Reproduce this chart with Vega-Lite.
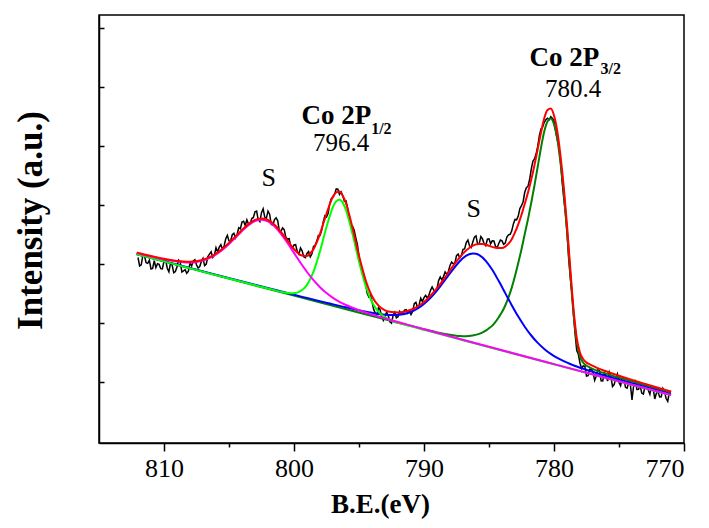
{
"$schema": "https://vega.github.io/schema/vega-lite/v6.json",
"width": 585, "height": 428,
"autosize": {"type": "none"},
"padding": {"left": 99, "top": 15, "right": 25, "bottom": 85},
"background": "white",
"config": {"view": {"stroke": "black", "strokeWidth": 1.5}, "axis": {"grid": false, "domainColor": "black", "domainWidth": 1.5, "tickColor": "black", "tickWidth": 1.5, "labelColor": "black", "titleColor": "black"}},
"datasets": {
"raw": [
{"E":812.0,"I":183.3},{"E":811.875,"I":174.8},{"E":811.75,"I":175.9},{"E":811.625,"I":185.7},{"E":811.5,"I":184.7},{"E":811.375,"I":178.1},{"E":811.25,"I":177.4},{"E":811.125,"I":180.6},{"E":811.0,"I":171.8},{"E":810.875,"I":172.4},{"E":810.75,"I":180.1},{"E":810.625,"I":173.2},{"E":810.5,"I":177.0},{"E":810.375,"I":176.4},{"E":810.25,"I":172.1},{"E":810.125,"I":171.8},{"E":810.0,"I":179.8},{"E":809.875,"I":181.0},{"E":809.75,"I":172.6},{"E":809.625,"I":169.0},{"E":809.5,"I":177.4},{"E":809.375,"I":175.7},{"E":809.25,"I":168.0},{"E":809.125,"I":169.2},{"E":809.0,"I":174.1},{"E":808.875,"I":180.6},{"E":808.75,"I":178.6},{"E":808.625,"I":168.8},{"E":808.5,"I":169.9},{"E":808.375,"I":171.1},{"E":808.25,"I":167.4},{"E":808.125,"I":169.5},{"E":808.0,"I":177.6},{"E":807.875,"I":174.8},{"E":807.75,"I":179.9},{"E":807.625,"I":181.0},{"E":807.5,"I":176.1},{"E":807.375,"I":172.7},{"E":807.25,"I":174.3},{"E":807.125,"I":179.4},{"E":807.0,"I":182.5},{"E":806.875,"I":175.2},{"E":806.75,"I":176.8},{"E":806.625,"I":184.2},{"E":806.5,"I":186.6},{"E":806.375,"I":189.0},{"E":806.25,"I":183.4},{"E":806.125,"I":185.3},{"E":806.0,"I":193.2},{"E":805.875,"I":188.9},{"E":805.75,"I":193.6},{"E":805.625,"I":196.1},{"E":805.5,"I":191.5},{"E":805.375,"I":194.8},{"E":805.25,"I":202.0},{"E":805.125,"I":205.5},{"E":805.0,"I":199.9},{"E":804.875,"I":199.5},{"E":804.75,"I":206.1},{"E":804.625,"I":207.5},{"E":804.5,"I":202.8},{"E":804.375,"I":206.5},{"E":804.25,"I":213.1},{"E":804.125,"I":212.0},{"E":804.0,"I":218.8},{"E":803.875,"I":219.6},{"E":803.75,"I":215.3},{"E":803.625,"I":221.0},{"E":803.5,"I":216.7},{"E":803.375,"I":216.5},{"E":803.25,"I":222.3},{"E":803.125,"I":223.3},{"E":803.0,"I":229.1},{"E":802.875,"I":229.8},{"E":802.75,"I":220.9},{"E":802.625,"I":219.2},{"E":802.5,"I":228.2},{"E":802.375,"I":232.0},{"E":802.25,"I":223.7},{"E":802.125,"I":222.5},{"E":802.0,"I":229.6},{"E":801.875,"I":226.6},{"E":801.75,"I":216.4},{"E":801.625,"I":215.8},{"E":801.5,"I":221.2},{"E":801.375,"I":223.0},{"E":801.25,"I":220.0},{"E":801.125,"I":209.5},{"E":801.0,"I":209.8},{"E":800.875,"I":212.9},{"E":800.75,"I":211.0},{"E":800.625,"I":203.4},{"E":800.5,"I":201.7},{"E":800.375,"I":202.1},{"E":800.25,"I":194.5},{"E":800.125,"I":193.2},{"E":800.0,"I":195.8},{"E":799.875,"I":196.1},{"E":799.75,"I":189.3},{"E":799.625,"I":186.6},{"E":799.5,"I":192.8},{"E":799.375,"I":189.9},{"E":799.25,"I":184.0},{"E":799.125,"I":183.2},{"E":799.0,"I":187.3},{"E":798.875,"I":189.2},{"E":798.75,"I":183.9},{"E":798.625,"I":186.8},{"E":798.5,"I":194.4},{"E":798.375,"I":195.5},{"E":798.25,"I":199.7},{"E":798.125,"I":205.3},{"E":798.0,"I":205.3},{"E":797.875,"I":210.2},{"E":797.75,"I":219.0},{"E":797.625,"I":225.0},{"E":797.5,"I":223.8},{"E":797.375,"I":227.4},{"E":797.25,"I":237.3},{"E":797.125,"I":242.4},{"E":797.0,"I":243.5},{"E":796.875,"I":246.5},{"E":796.75,"I":251.9},{"E":796.625,"I":251.6},{"E":796.5,"I":246.4},{"E":796.375,"I":248.9},{"E":796.25,"I":245.0},{"E":796.125,"I":239.7},{"E":796.0,"I":239.9},{"E":795.875,"I":232.6},{"E":795.75,"I":222.0},{"E":795.625,"I":214.7},{"E":795.5,"I":214.6},{"E":795.375,"I":210.9},{"E":795.25,"I":203.2},{"E":795.125,"I":196.4},{"E":795.0,"I":184.8},{"E":794.875,"I":175.0},{"E":794.75,"I":171.5},{"E":794.625,"I":166.0},{"E":794.5,"I":157.5},{"E":794.375,"I":147.8},{"E":794.25,"I":144.0},{"E":794.125,"I":146.0},{"E":794.0,"I":139.1},{"E":793.875,"I":131.5},{"E":793.75,"I":127.8},{"E":793.625,"I":126.0},{"E":793.5,"I":133.2},{"E":793.375,"I":130.9},{"E":793.25,"I":123.6},{"E":793.125,"I":120.3},{"E":793.0,"I":124.0},{"E":792.875,"I":128.7},{"E":792.75,"I":125.4},{"E":792.625,"I":119.0},{"E":792.5,"I":117.7},{"E":792.375,"I":125.5},{"E":792.25,"I":128.5},{"E":792.125,"I":123.0},{"E":792.0,"I":124.0},{"E":791.875,"I":129.4},{"E":791.75,"I":127.5},{"E":791.625,"I":127.5},{"E":791.5,"I":130.7},{"E":791.375,"I":131.2},{"E":791.25,"I":127.6},{"E":791.125,"I":129.7},{"E":791.0,"I":126.2},{"E":790.875,"I":129.3},{"E":790.75,"I":137.2},{"E":790.625,"I":138.5},{"E":790.5,"I":133.3},{"E":790.375,"I":136.0},{"E":790.25,"I":142.7},{"E":790.125,"I":139.3},{"E":790.0,"I":143.1},{"E":789.875,"I":145.4},{"E":789.75,"I":142.9},{"E":789.625,"I":145.5},{"E":789.5,"I":150.5},{"E":789.375,"I":153.8},{"E":789.25,"I":150.6},{"E":789.125,"I":148.7},{"E":789.0,"I":152.4},{"E":788.875,"I":160.2},{"E":788.75,"I":163.9},{"E":788.625,"I":160.9},{"E":788.5,"I":164.2},{"E":788.375,"I":168.9},{"E":788.25,"I":166.4},{"E":788.125,"I":169.3},{"E":788.0,"I":175.4},{"E":787.875,"I":178.7},{"E":787.75,"I":177.1},{"E":787.625,"I":177.6},{"E":787.5,"I":185.2},{"E":787.375,"I":186.8},{"E":787.25,"I":182.8},{"E":787.125,"I":185.1},{"E":787.0,"I":191.4},{"E":786.875,"I":191.9},{"E":786.75,"I":198.3},{"E":786.625,"I":200.7},{"E":786.5,"I":195.1},{"E":786.375,"I":193.3},{"E":786.25,"I":198.5},{"E":786.125,"I":203.7},{"E":786.0,"I":204.9},{"E":785.875,"I":196.7},{"E":785.75,"I":197.4},{"E":785.625,"I":204.2},{"E":785.5,"I":201.9},{"E":785.375,"I":197.0},{"E":785.25,"I":195.1},{"E":785.125,"I":201.6},{"E":785.0,"I":202.0},{"E":784.875,"I":197.0},{"E":784.75,"I":200.0},{"E":784.625,"I":199.8},{"E":784.5,"I":194.5},{"E":784.375,"I":192.9},{"E":784.25,"I":197.3},{"E":784.125,"I":200.7},{"E":784.0,"I":199.9},{"E":783.875,"I":196.4},{"E":783.75,"I":197.8},{"E":783.625,"I":203.7},{"E":783.5,"I":206.0},{"E":783.375,"I":206.5},{"E":783.25,"I":210.0},{"E":783.125,"I":216.9},{"E":783.0,"I":221.4},{"E":782.875,"I":221.0},{"E":782.75,"I":224.7},{"E":782.625,"I":232.3},{"E":782.5,"I":235.1},{"E":782.375,"I":239.1},{"E":782.25,"I":248.5},{"E":782.125,"I":253.1},{"E":782.0,"I":254.6},{"E":781.875,"I":261.3},{"E":781.75,"I":271.6},{"E":781.625,"I":279.4},{"E":781.5,"I":281.8},{"E":781.375,"I":287.0},{"E":781.25,"I":294.6},{"E":781.125,"I":305.1},{"E":781.0,"I":312.0},{"E":780.875,"I":313.6},{"E":780.75,"I":318.5},{"E":780.625,"I":321.0},{"E":780.5,"I":322.5},{"E":780.375,"I":321.0},{"E":780.25,"I":324.0},{"E":780.125,"I":322.5},{"E":780.0,"I":320.0},{"E":779.875,"I":309.6},{"E":779.75,"I":301.4},{"E":779.625,"I":293.8},{"E":779.5,"I":279.7},{"E":779.375,"I":259.2},{"E":779.25,"I":242.7},{"E":779.125,"I":228.1},{"E":779.0,"I":208.8},{"E":778.875,"I":182.7},{"E":778.75,"I":163.8},{"E":778.625,"I":147.8},{"E":778.5,"I":126.2},{"E":778.375,"I":106.6},{"E":778.25,"I":90.3},{"E":778.125,"I":86.5},{"E":778.0,"I":77.6},{"E":777.875,"I":72.3},{"E":777.75,"I":75.0},{"E":777.625,"I":74.4},{"E":777.5,"I":64.7},{"E":777.375,"I":65.1},{"E":777.25,"I":71.5},{"E":777.125,"I":71.7},{"E":777.0,"I":68.9},{"E":776.875,"I":60.5},{"E":776.75,"I":64.6},{"E":776.625,"I":70.9},{"E":776.5,"I":70.1},{"E":776.375,"I":60.0},{"E":776.25,"I":59.8},{"E":776.125,"I":68.0},{"E":776.0,"I":64.9},{"E":775.875,"I":59.8},{"E":775.75,"I":68.7},{"E":775.625,"I":64.3},{"E":775.5,"I":54.3},{"E":775.375,"I":56.2},{"E":775.25,"I":62.3},{"E":775.125,"I":66.7},{"E":775.0,"I":58.4},{"E":774.875,"I":55.1},{"E":774.75,"I":63.0},{"E":774.625,"I":62.5},{"E":774.5,"I":53.5},{"E":774.375,"I":52.6},{"E":774.25,"I":58.8},{"E":774.125,"I":56.2},{"E":774.0,"I":41.0},{"E":773.875,"I":55.2},{"E":773.75,"I":60.9},{"E":773.625,"I":51.3},{"E":773.5,"I":51.5},{"E":773.375,"I":55.2},{"E":773.25,"I":47.7},{"E":773.125,"I":46.8},{"E":773.0,"I":54.4},{"E":772.875,"I":56.1},{"E":772.75,"I":50.7},{"E":772.625,"I":46.4},{"E":772.5,"I":54.6},{"E":772.375,"I":53.1},{"E":772.25,"I":41.8},{"E":772.125,"I":47.6},{"E":772.0,"I":49.2},{"E":771.875,"I":43.9},{"E":771.75,"I":44.1},{"E":771.625,"I":52.4},{"E":771.5,"I":49.4},{"E":771.375,"I":42.3},{"E":771.25,"I":39.4},{"E":771.125,"I":48.7},{"E":771.0,"I":49.6}
],
"red": [
{"E":812.1,"I":188.2},{"E":812.0,"I":187.9},{"E":811.5,"I":186.3},{"E":811.0,"I":184.8},{"E":810.5,"I":183.4},{"E":810.0,"I":182.0},{"E":809.5,"I":180.8},{"E":809.0,"I":179.9},{"E":808.5,"I":179.3},{"E":808.0,"I":179.1},{"E":807.5,"I":179.6},{"E":807.0,"I":181.0},{"E":806.5,"I":183.6},{"E":806.0,"I":187.2},{"E":805.5,"I":192.0},{"E":805.0,"I":197.9},{"E":804.5,"I":204.3},{"E":804.0,"I":210.8},{"E":803.5,"I":216.7},{"E":803.0,"I":220.9},{"E":802.75,"I":221.9},{"E":802.5,"I":222.4},{"E":802.25,"I":222.1},{"E":802.0,"I":220.8},{"E":801.5,"I":216.0},{"E":801.0,"I":208.8},{"E":800.5,"I":200.2},{"E":800.0,"I":191.8},{"E":799.5,"I":185.8},{"E":799.25,"I":185.0},{"E":799.0,"I":184.8},{"E":798.75,"I":187.5},{"E":798.5,"I":191.6},{"E":798.25,"I":198.5},{"E":798.0,"I":206.9},{"E":797.75,"I":217.0},{"E":797.5,"I":227.0},{"E":797.25,"I":236.5},{"E":797.0,"I":244.3},{"E":796.75,"I":248.5},{"E":796.5,"I":249.2},{"E":796.25,"I":245.0},{"E":796.0,"I":237.5},{"E":795.75,"I":226.0},{"E":795.5,"I":213.0},{"E":795.25,"I":199.0},{"E":795.0,"I":185.0},{"E":794.75,"I":172.5},{"E":794.5,"I":161.0},{"E":794.25,"I":152.0},{"E":794.0,"I":144.6},{"E":793.5,"I":135.2},{"E":793.0,"I":130.5},{"E":792.5,"I":128.7},{"E":792.0,"I":128.4},{"E":791.5,"I":129.1},{"E":791.0,"I":131.0},{"E":790.5,"I":134.3},{"E":790.0,"I":138.9},{"E":789.5,"I":145.1},{"E":789.0,"I":152.6},{"E":788.5,"I":161.2},{"E":788.0,"I":170.4},{"E":787.5,"I":179.4},{"E":787.0,"I":187.2},{"E":786.5,"I":193.1},{"E":786.0,"I":196.4},{"E":785.75,"I":196.9},{"E":785.5,"I":196.9},{"E":785.0,"I":195.0},{"E":784.5,"I":193.0},{"E":784.25,"I":192.8},{"E":784.0,"I":192.8},{"E":783.75,"I":194.2},{"E":783.5,"I":197.1},{"E":783.25,"I":201.6},{"E":783.0,"I":208.4},{"E":782.75,"I":216.5},{"E":782.5,"I":226.0},{"E":782.25,"I":237.0},{"E":782.0,"I":248.3},{"E":781.75,"I":261.2},{"E":781.5,"I":275.8},{"E":781.25,"I":291.8},{"E":781.0,"I":308.2},{"E":780.75,"I":322.5},{"E":780.5,"I":330.7},{"E":780.25,"I":332.2},{"E":780.0,"I":325.3},{"E":779.75,"I":309.8},{"E":779.5,"I":284.9},{"E":779.25,"I":253.9},{"E":779.0,"I":215.6},{"E":778.75,"I":172.6},{"E":778.5,"I":132.2},{"E":778.25,"I":102.7},{"E":778.0,"I":88.1},{"E":777.75,"I":81.5},{"E":777.5,"I":78.2},{"E":777.25,"I":76.5},{"E":777.0,"I":74.9},{"E":776.5,"I":71.9},{"E":776.0,"I":69.5},{"E":775.0,"I":65.1},{"E":774.0,"I":60.9},{"E":773.0,"I":56.9},{"E":772.0,"I":53.1},{"E":771.0,"I":49.3}
],
"magenta": [
{"E":812.1,"I":187.7},{"E":812.0,"I":187.4},{"E":811.5,"I":185.8},{"E":811.0,"I":184.3},{"E":810.5,"I":182.9},{"E":810.0,"I":181.4},{"E":809.5,"I":180.2},{"E":809.0,"I":179.2},{"E":808.5,"I":178.6},{"E":808.0,"I":178.4},{"E":807.5,"I":178.9},{"E":807.0,"I":180.3},{"E":806.5,"I":182.7},{"E":806.0,"I":186.3},{"E":805.5,"I":191.1},{"E":805.0,"I":196.9},{"E":804.5,"I":203.3},{"E":804.0,"I":209.8},{"E":803.5,"I":215.6},{"E":803.0,"I":219.7},{"E":802.5,"I":221.1},{"E":802.0,"I":219.4},{"E":801.5,"I":214.5},{"E":801.0,"I":207.0},{"E":800.5,"I":197.8},{"E":800.0,"I":187.9},{"E":799.5,"I":178.1},{"E":799.0,"I":168.8},{"E":798.5,"I":160.6},{"E":798.0,"I":153.6},{"E":797.5,"I":147.7},{"E":797.0,"I":142.9},{"E":796.5,"I":139.0},{"E":796.0,"I":135.8},{"E":795.5,"I":133.0},{"E":795.0,"I":130.5},{"E":794.5,"I":128.3},{"E":794.0,"I":126.3},{"E":793.5,"I":124.3},{"E":793.0,"I":122.4},{"E":792.5,"I":120.6},{"E":792.0,"I":118.8},{"E":790.0,"I":111.5},{"E":785.0,"I":94.0},{"E":780.0,"I":76.7},{"E":775.0,"I":59.5},{"E":771.0,"I":45.75}
],
"lgreen": [
{"E":812.1,"I":186.5},{"E":806.0,"I":165.7},{"E":803.0,"I":155.5},{"E":801.5,"I":150.5},{"E":801.0,"I":149.0},{"E":800.5,"I":147.8},{"E":800.0,"I":147.6},{"E":799.5,"I":149.6},{"E":799.0,"I":155.9},{"E":798.5,"I":169.1},{"E":798.0,"I":189.6},{"E":797.5,"I":213.8},{"E":797.0,"I":234.0},{"E":796.75,"I":239.5},{"E":796.5,"I":241.0},{"E":796.25,"I":238.2},{"E":796.0,"I":230.6},{"E":795.5,"I":207.0},{"E":795.0,"I":179.3},{"E":794.5,"I":155.4},{"E":794.0,"I":138.8},{"E":793.5,"I":129.0},{"E":793.0,"I":123.6},{"E":792.5,"I":120.4},{"E":792.0,"I":118.2},{"E":791.5,"I":116.3},{"E":790.0,"I":111.0},{"E":787.0,"I":100.6},{"E":783.0,"I":86.8},{"E":778.0,"I":69.7},{"E":771.0,"I":45.65}
],
"blue": [
{"E":812.1,"I":186.8},{"E":806.25,"I":166.9},{"E":802.25,"I":153.5},{"E":800.75,"I":148.6},{"E":798.25,"I":140.4},{"E":797.25,"I":137.3},{"E":796.25,"I":134.2},{"E":795.75,"I":132.7},{"E":795.25,"I":131.2},{"E":794.75,"I":129.8},{"E":794.25,"I":128.5},{"E":793.75,"I":127.4},{"E":793.25,"I":126.5},{"E":792.75,"I":125.9},{"E":792.25,"I":125.8},{"E":791.75,"I":126.3},{"E":791.25,"I":127.8},{"E":790.75,"I":130.4},{"E":790.25,"I":134.4},{"E":789.75,"I":139.8},{"E":789.25,"I":146.5},{"E":788.75,"I":154.5},{"E":788.25,"I":163.2},{"E":787.75,"I":171.7},{"E":787.25,"I":179.5},{"E":786.75,"I":185.1},{"E":786.25,"I":187.4},{"E":786.0,"I":187.0},{"E":785.75,"I":185.7},{"E":785.25,"I":180.0},{"E":784.75,"I":171.0},{"E":784.25,"I":159.7},{"E":783.75,"I":147.7},{"E":783.25,"I":135.6},{"E":782.75,"I":124.2},{"E":782.25,"I":114.1},{"E":781.75,"I":105.3},{"E":781.25,"I":97.9},{"E":780.75,"I":91.9},{"E":780.25,"I":86.9},{"E":779.75,"I":82.9},{"E":779.25,"I":79.6},{"E":778.75,"I":76.8},{"E":778.25,"I":74.3},{"E":777.75,"I":72.0},{"E":777.25,"I":69.9},{"E":776.75,"I":67.8},{"E":776.25,"I":65.8},{"E":775.75,"I":63.9},{"E":774.75,"I":60.2},{"E":773.75,"I":56.5},{"E":771.0,"I":46.6}
],
"dgreen": [
{"E":812.1,"I":186.5},{"E":800.0,"I":145.2},{"E":795.25,"I":129.0},{"E":792.25,"I":118.9},{"E":790.25,"I":112.4},{"E":789.25,"I":109.3},{"E":788.25,"I":106.5},{"E":787.75,"I":105.5},{"E":787.25,"I":104.7},{"E":786.75,"I":104.5},{"E":786.25,"I":105.3},{"E":785.75,"I":106.9},{"E":785.25,"I":110.1},{"E":785.0,"I":112.5},{"E":784.75,"I":115.2},{"E":784.5,"I":118.9},{"E":784.25,"I":123.6},{"E":784.0,"I":128.7},{"E":783.75,"I":135.3},{"E":783.5,"I":143.4},{"E":783.25,"I":153.2},{"E":783.0,"I":164.8},{"E":782.75,"I":177.8},{"E":782.5,"I":191.6},{"E":782.25,"I":206.7},{"E":782.0,"I":221.7},{"E":781.75,"I":238.0},{"E":781.5,"I":255.6},{"E":781.25,"I":274.3},{"E":781.0,"I":293.1},{"E":780.75,"I":309.3},{"E":780.5,"I":319.3},{"E":780.25,"I":322.3},{"E":780.0,"I":316.5},{"E":779.75,"I":302.2},{"E":779.5,"I":278.1},{"E":779.25,"I":247.9},{"E":779.0,"I":210.2},{"E":778.75,"I":167.7},{"E":778.5,"I":127.7},{"E":778.25,"I":98.6},{"E":778.0,"I":84.3},{"E":777.75,"I":78.0},{"E":777.5,"I":75.0},{"E":777.25,"I":73.4},{"E":776.75,"I":70.4},{"E":775.75,"I":66.1},{"E":774.75,"I":62.2},{"E":772.75,"I":54.5},{"E":771.0,"I":48.1}
],
"sLabels": [{"E":801.95,"I":262.5,"label":"S"},{"E":786.18,"I":231.5,"label":"S"}],
"coLabels": [{"E":796.74,"I":324.5,"label":"Co 2P"},{"E":779.2,"I":383.0,"label":"Co 2P"}],
"subLabels": [{"E":793.28,"I":312.2,"label":"1/2"},{"E":775.64,"I":371.5,"label":"3/2"}],
"numLabels": [{"E":796.37,"I":297.5,"label":"796.4"},{"E":778.52,"I":352.2,"label":"780.4"}]
},
"encoding": {
"x": {"field": "E", "type": "quantitative",
 "scale": {"domain": [770, 815], "reverse": true, "nice": false, "zero": false},
 "axis": {"title": "B.E.(eV)", "values": [770, 775, 780, 785, 790, 795, 800, 805, 810],
  "labelExpr": "datum.value % 10 === 0 ? datum.label : ''",
  "tickSize": {"condition": {"test": "datum.value % 10 === 0", "value": 8}, "value": 4},
  "labelFont": "Liberation Serif", "labelFontSize": 26, "labelPadding": 4,
  "titleFont": "Liberation Serif", "titleFontWeight": "bold", "titleFontSize": 27, "titlePadding": 10, "titleX": 281}},
"y": {"field": "I", "type": "quantitative",
 "scale": {"domain": [-2.2, 425.8], "nice": false, "zero": false},
 "axis": {"title": "Intensity (a.u.)", "values": [59, 118, 177, 236, 295, 354, 413], "labels": false, "tickSize": -5,
  "titleFont": "Liberation Serif", "titleFontWeight": "bold", "titleFontSize": 35, "titlePadding": 50, "titleY": 205}}
},
"layer": [
{"data": {"name": "raw"}, "mark": {"type": "line", "color": "black", "strokeWidth": 1.5}},
{"data": {"name": "dgreen"}, "mark": {"type": "line", "color": "#008000", "strokeWidth": 2, "interpolate": "monotone"}},
{"data": {"name": "blue"}, "mark": {"type": "line", "color": "#0000ff", "strokeWidth": 2, "interpolate": "monotone"}},
{"data": {"name": "lgreen"}, "mark": {"type": "line", "color": "#00ff00", "strokeWidth": 2, "interpolate": "monotone"}},
{"data": {"name": "magenta"}, "mark": {"type": "line", "color": "#ff00ff", "strokeWidth": 2, "interpolate": "monotone"}},
{"data": {"name": "red"}, "mark": {"type": "line", "color": "#ff0000", "strokeWidth": 2, "interpolate": "monotone"}},
{"data": {"name": "sLabels"}, "mark": {"type": "text", "font": "Liberation Serif", "fontSize": 26, "color": "black", "align": "center", "baseline": "middle"}, "encoding": {"text": {"field": "label"}}},
{"data": {"name": "coLabels"}, "mark": {"type": "text", "font": "Liberation Serif", "fontSize": 27, "fontWeight": "bold", "color": "black", "align": "center", "baseline": "middle"}, "encoding": {"text": {"field": "label"}}},
{"data": {"name": "subLabels"}, "mark": {"type": "text", "font": "Liberation Serif", "fontSize": 16, "fontWeight": "bold", "color": "black", "align": "center", "baseline": "middle"}, "encoding": {"text": {"field": "label"}}},
{"data": {"name": "numLabels"}, "mark": {"type": "text", "font": "Liberation Serif", "fontSize": 25, "color": "black", "align": "center", "baseline": "middle"}, "encoding": {"text": {"field": "label"}}}
]
}
